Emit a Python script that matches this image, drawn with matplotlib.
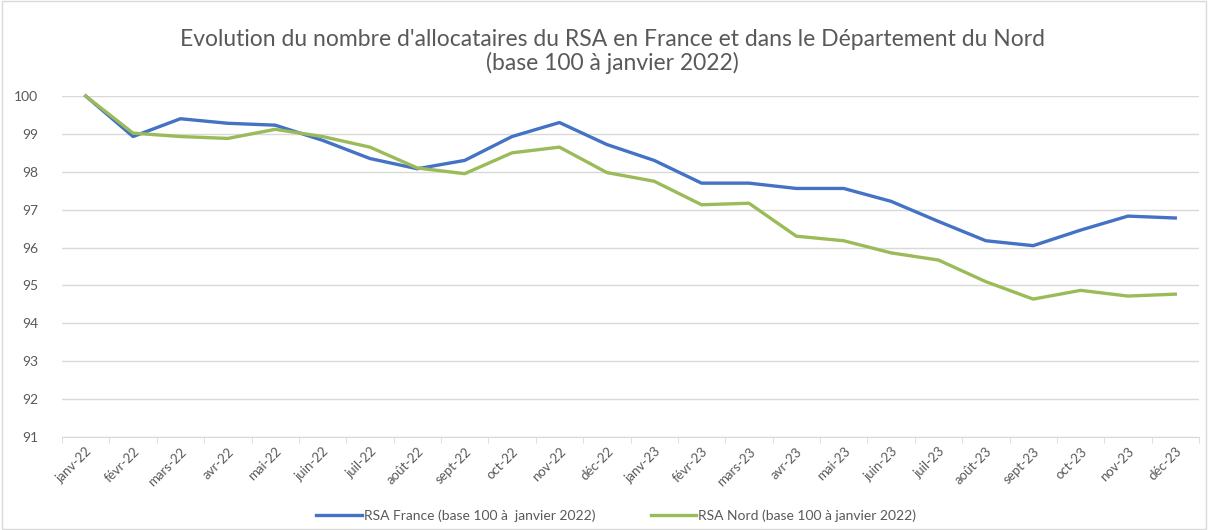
import matplotlib
matplotlib.use("Agg")
import matplotlib.pyplot as plt
from matplotlib.patches import Rectangle

months = ["janv-22", "févr-22", "mars-22", "avr-22", "mai-22", "juin-22", "juil-22", "août-22",
          "sept-22", "oct-22", "nov-22", "déc-22", "janv-23", "févr-23", "mars-23", "avr-23",
          "mai-23", "juin-23", "juil-23", "août-23", "sept-23", "oct-23", "nov-23", "déc-23"]
rsa_france = [100.0, 98.93, 99.40, 99.28, 99.23, 98.83, 98.35, 98.08, 98.30, 98.93, 99.30, 98.72,
              98.30, 97.70, 97.70, 97.56, 97.56, 97.22, 96.69, 96.18, 96.05, 96.46, 96.83, 96.78]
rsa_nord = [100.0, 99.02, 98.93, 98.88, 99.12, 98.93, 98.65, 98.10, 97.95, 98.50, 98.65, 97.98,
            97.75, 97.13, 97.17, 96.30, 96.18, 95.86, 95.67, 95.10, 94.64, 94.87, 94.72, 94.77]
yticks = [91, 92, 93, 94, 95, 96, 97, 98, 99, 100]
title = "Evolution du nombre d'allocataires du RSA en France et dans le Département du Nord\n(base 100 à janvier 2022)"
label_france = "RSA France (base 100 à  janvier 2022)"
label_nord = "RSA Nord (base 100 à janvier 2022)"

plt.rcParams['font.family'] = ['Lato', 'DejaVu Sans']

fig = plt.figure(figsize=(12.08, 5.30), dpi=100)
fig.patch.set_facecolor("white")
fig.add_artist(Rectangle((0.002, 0.002), 0.996, 0.996, transform=fig.transFigure,
                         fill=False, edgecolor="#d9d9d9", linewidth=1))

ax = fig.add_axes([62/1208, 1-437/530, (1199-62)/1208, (437-96)/530])
x = list(range(len(months)))
ax.plot(x, rsa_france, color="#4472C4", linewidth=2.4, label=label_france, clip_on=False, zorder=3)
ax.plot(x, rsa_nord, color="#9BBB59", linewidth=2.4, label=label_nord, clip_on=False, zorder=3)

ax.set_ylim(91, 100)
ax.set_xlim(-0.5, len(months) - 0.5)
ax.set_yticks(yticks)
ax.set_yticklabels([str(v) for v in yticks], color="#595959", fontsize=10)
ax.tick_params(axis="y", length=0, pad=17)
ax.grid(axis="y", color="#d9d9d9", linewidth=1)
ax.set_axisbelow(True)

ax.set_xticks(x)
ax.set_xticklabels(months, rotation=45, ha="right", rotation_mode="anchor",
                   color="#595959", fontsize=9.5)
ax.tick_params(axis="x", length=0, pad=6)
ax.set_xticks([i + 0.5 for i in range(-1, len(months))], minor=True)
ax.tick_params(axis="x", which="minor", length=4, color="#d9d9d9")

for s in ["top", "right", "left"]:
    ax.spines[s].set_visible(False)
ax.spines["bottom"].set_color("#d9d9d9")

fig.text(0.507, 0.903, title, ha="center", va="center", fontsize=16.5, color="#595959",
         linespacing=1.15)

fig.legend(loc="center", bbox_to_anchor=(0.51, 0.027), ncol=2, frameon=False,
           fontsize=10, handlelength=3.3, handletextpad=0.1, columnspacing=4,
           labelcolor="#595959")

fig.savefig("out.png", dpi=100, facecolor="white")
